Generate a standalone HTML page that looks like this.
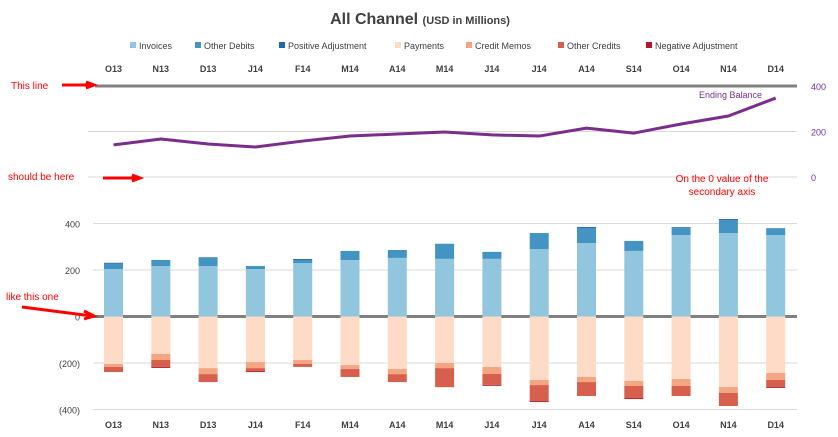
<!DOCTYPE html>
<html><head><meta charset="utf-8"><style>
body{margin:0;background:#fff;}
svg{display:block;font-family:"Liberation Sans",sans-serif;}
</style></head><body>
<svg id="chart" width="838" height="437" viewBox="0 0 838 437" xmlns="http://www.w3.org/2000/svg">
<text x="420" y="24" text-anchor="middle" font-size="16" font-weight="bold" fill="#404040">All Channel <tspan font-size="11">(USD in Millions)</tspan></text>
<g id="legend"></g>
<g id="grid"></g>
<g id="bars"></g>
<g id="line"></g>
<g id="labels"></g>
<g font-size="10" fill="#ff0000">
<text x="11" y="89">This line</text>
<text x="8" y="180">should be here</text>
<text x="6" y="300">like this one</text>
<text x="722" y="182" text-anchor="middle">On the 0 value of the</text>
<text x="722" y="195" text-anchor="middle">secondary axis</text>
<path d="M62 85 L92 85 M86 82 L94 85 L86 88" stroke="#ff0000" stroke-width="3" fill="none"/>
<path d="M103 178 L138 178 M132 175 L140 178 L132 181" stroke="#ff0000" stroke-width="3" fill="none"/>
<path d="M22 307 L92 316 M84 311 L94 316 L84 319" stroke="#ff0000" stroke-width="3" fill="none"/>
</g>
</svg>
<script>
const categories=["O13","N13","D13","J14","F14","M14","A14","M14","J14","J14","A14","S14","O14","N14","D14"];
const invoices=[204,217,217,204,230,243,252,248,248,290,316,282,350,359,350];
const otherDebits=[23,26,36,13,13,39,34,65,30,69,65,43,30,56,30];
const positiveAdj=[4,0,2,0,4,0,0,0,0,0,4,0,4,4,0];
const payments=[-204,-161,-222,-196,-187,-209,-226,-200,-217,-273,-260,-277,-269,-303,-243];
const creditMemos=[-13,-26,-26,-26,-17,-17,-22,-22,-30,-22,-22,-22,-30,-26,-30];
const otherCredits=[-22,-30,-34,-13,-13,-34,-34,-82,-47,-69,-60,-52,-43,-56,-30];
const negativeAdj=[0,-4,0,-4,0,0,0,0,-4,-4,0,-4,0,0,-4];
const endingBalance=[141,167,145,132,158,180,189,198,185,180,215,193,233,268,347];
const primaryTicks=[400,200,0,-200,-400];
const primaryTickLabels=["400","200","0","(200)","(400)"];
const secondaryTicks=[400,200,0];

const NS="http://www.w3.org/2000/svg";
function mk(tag,attrs,parent){const e=document.createElementNS(NS,tag);for(const k in attrs)e.setAttribute(k,attrs[k]);parent.appendChild(e);return e;}
const xC=i=>113.5+i*47.3;
const yP=v=>316.5-v*0.2325;
const yS=v=>177-v*0.2275;
const grid=document.getElementById('grid'),bars=document.getElementById('bars'),lineG=document.getElementById('line'),labels=document.getElementById('labels'),legend=document.getElementById('legend');

primaryTicks.forEach((t,i)=>{
  if(t!==0){const g=mk('line',{x1:93,x2:797,y1:yP(t),y2:yP(t),stroke:'#d9d9d9','stroke-width':1},grid);
  
  }
  const tx=mk('text',{x:80,y:yP(t)+4,'text-anchor':'end','font-size':9,fill:'#404040'},labels);tx.textContent=primaryTickLabels[i];
  
  
});
secondaryTicks.forEach(t=>{
  if(t!==400){const g=mk('line',{x1:88,x2:797,y1:yS(t),y2:yS(t),stroke:'#d9d9d9','stroke-width':1},grid);
  
  }
  const tx=mk('text',{x:811,y:yS(t)+4,'font-size':9,fill:'#7030a0'},labels);tx.textContent=String(t);
  
  
});
const topLine=mk('line',{x1:95,x2:797,y1:yS(400),y2:yS(400),stroke:'#808080','stroke-width':3},grid);



const posSeries=[[invoices,'#92c5de','invoices'],[otherDebits,'#4393c3','other-debits'],[positiveAdj,'#2166ac','positive-adjustment']];
const negSeries=[[payments,'#fddbc7','payments'],[creditMemos,'#f4a582','credit-memos'],[otherCredits,'#d6604d','other-credits'],[negativeAdj,'#b2182b','negative-adjustment']];
categories.forEach((c,i)=>{
  let acc=0;
  posSeries.forEach(([arr,col,nm])=>{const v=arr[i];if(!v)return;const r=mk('rect',{x:xC(i)-9.5,width:19,y:yP(acc+v),height:yP(acc)-yP(acc+v),fill:col},bars);
    
    acc+=v;});
  acc=0;
  negSeries.forEach(([arr,col,nm])=>{const v=arr[i];if(!v)return;const r=mk('rect',{x:xC(i)-9.5,width:19,y:yP(acc),height:yP(acc+v)-yP(acc),fill:col},bars);
    
    acc+=v;});
  const t1=mk('text',{x:xC(i),y:72,'text-anchor':'middle','font-size':9,'font-weight':'bold',fill:'#404040'},labels);t1.textContent=c;
  
  
  const t2=mk('text',{x:xC(i),y:428,'text-anchor':'middle','font-size':9,'font-weight':'bold',fill:'#404040'},labels);t2.textContent=c;
  
  
});
const zero=mk('line',{x1:93,x2:797,y1:yP(0),y2:yP(0),stroke:'#808080','stroke-width':3},grid);



const pl=mk('polyline',{points:endingBalance.map((v,i)=>xC(i)+','+yS(v)).join(' '),fill:'none',stroke:'#7b2d8b','stroke-width':3,'stroke-linejoin':'round'},lineG);


const lb=mk('text',{x:762,y:98,'text-anchor':'end','font-size':9,fill:'#7b2d8b'},lineG);lb.textContent='Ending Balance';



const legendItems=[['Invoices','#92c5de',130],['Other Debits','#4393c3',195],['Positive Adjustment','#2166ac',279],['Payments','#fddbc7',395],['Credit Memos','#f4a582',466],['Other Credits','#d6604d',558],['Negative Adjustment','#b2182b',646]];
legendItems.forEach(([n,col,x])=>{
  const g=mk('g',{},legend);
  
  
  mk('rect',{x:x,y:42,width:6,height:6,fill:col},g);
  const t=mk('text',{x:x+9,y:49,'font-size':9,fill:'#404040'},g);t.textContent=n;
});
</script>
</body></html>
